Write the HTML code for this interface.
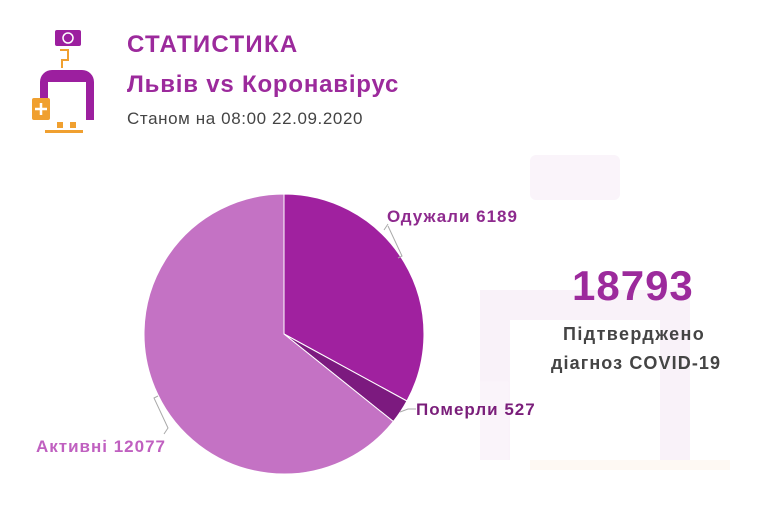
<!DOCTYPE html>
<html><head><meta charset="utf-8"><style>
body{margin:0;width:767px;height:518px;background:#fff;overflow:hidden;font-family:"Liberation Sans",sans-serif;position:relative}
.t{position:absolute;white-space:nowrap}
</style></head><body>
<svg width="767" height="518" style="position:absolute;left:0;top:0">
<g opacity="0.05">
<rect x="530" y="155" width="90" height="45" rx="6" fill="#9c1f9f"/>
<rect x="480" y="290" width="30" height="170" fill="#9c1f9f"/>
<rect x="660" y="290" width="30" height="170" fill="#9c1f9f"/>
<rect x="480" y="290" width="210" height="30" rx="15" fill="#9c1f9f"/>
<rect x="530" y="460" width="200" height="10" fill="#f0a030"/>
</g>
<g>
<rect x="55" y="30" width="26" height="16" rx="2" fill="#9c1f9f"/>
<circle cx="68" cy="38" r="5" fill="none" stroke="#fff" stroke-width="1.5"/>
<path d="M60 50 h8 v10 h-6 v8" fill="none" stroke="#f0a030" stroke-width="2"/>
<path d="M40 120 V82 a12 12 0 0 1 12 -12 h30 a12 12 0 0 1 12 12 V120 h-8 V82 h-38 v38z" fill="#9c1f9f"/>
<rect x="32" y="98" width="18" height="22" rx="2" fill="#f0a030"/>
<path d="M41 103 v12 M35 109 h12" stroke="#fff" stroke-width="2.5"/>
<rect x="45" y="130" width="38" height="3" fill="#f0a030"/>
<rect x="57" y="122" width="6" height="6" fill="#f0a030"/>
<rect x="70" y="122" width="6" height="6" fill="#f0a030"/>
</g>
<path d="M284 334 L284 194 A140 140 0 0 1 406.9 401 Z" fill="#a0219f" stroke="#fff" stroke-width="1"/>
<path d="M284 334 L406.9 401 A140 140 0 0 1 393.3 421.5 Z" fill="#7c1a7f" stroke="#fff" stroke-width="1"/>
<path d="M284 334 L393.3 421.5 A140 140 0 1 1 284 194 Z" fill="#c472c4" stroke="#fff" stroke-width="1"/>
<path d="M384 230 l4 -6 M388 226 l14 30 l-4 2" fill="none" stroke="#aaa" stroke-width="1"/>
<path d="M400 412 l8 -3 h8" fill="none" stroke="#aaa" stroke-width="1"/>
<path d="M158 396 l-4 2 l14 30 l-4 6" fill="none" stroke="#aaa" stroke-width="1"/>
</svg>
<div class="t" style="left:127px;top:31px;font-size:24px;font-weight:bold;color:#9c2a9c;letter-spacing:1.3px">СТАТИСТИКА</div>
<div class="t" style="left:127px;top:71px;font-size:24px;font-weight:bold;color:#9c2a9c;letter-spacing:0.8px">Львів vs Коронавірус</div>
<div class="t" style="left:127px;top:109px;font-size:17px;color:#444;letter-spacing:0.6px">Станом на 08:00 22.09.2020</div>
<div class="t" style="left:387px;top:207px;font-size:17px;font-weight:bold;color:#8e2a8e;letter-spacing:1px">Одужали 6189</div>
<div class="t" style="left:416px;top:400px;font-size:17px;font-weight:bold;color:#7a1e7a;letter-spacing:1px">Померли 527</div>
<div class="t" style="left:36px;top:437px;font-size:17px;font-weight:bold;color:#c060c0;letter-spacing:1px">Активні 12077</div>
<div class="t" style="left:572px;top:262px;font-size:42px;font-weight:bold;color:#9c2a9c;letter-spacing:1px">18793</div>
<div class="t" style="left:563px;top:324px;font-size:18px;font-weight:bold;color:#444;letter-spacing:1.4px">Підтверджено</div>
<div class="t" style="left:551px;top:353px;font-size:18px;font-weight:bold;color:#444;letter-spacing:1.1px">діагноз COVID-19</div>
</body></html>
